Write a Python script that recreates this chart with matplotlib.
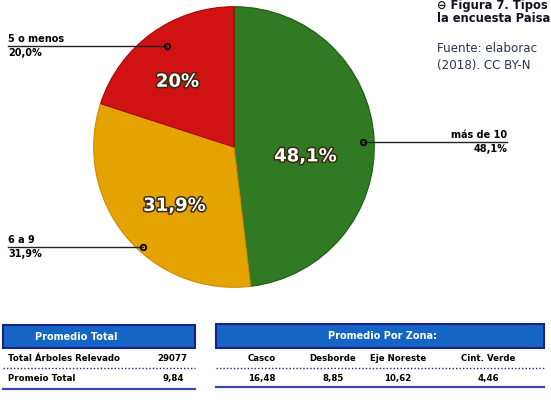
import matplotlib.pyplot as plt
import matplotlib.patheffects as pe
from matplotlib.patches import Rectangle

# datos del grafico
categorias = ['más de 10', '6 a 9', '5 o menos']
valores = [48.1, 31.9, 20.0]
etiquetas_pct = ['48,1%', '31,9%', '20%']
etiquetas_ext = ['48,1%', '31,9%', '20,0%']
colores = ['#2f7a22', '#e4a300', '#d01212']

# tabla promedio total
filas_total = ['Total Árboles Relevado', 'Promeio Total']
valores_total = ['29077', '9,84']

# tabla promedio por zona
zonas = ['Casco', 'Desborde', 'Eje Noreste', 'Cint. Verde']
promedios_zona = ['16,48', '8,85', '10,62', '4,46']

W, H = 551, 415
fig = plt.figure(figsize=(W / 100, H / 100), dpi=100)

# torta
cx, cy, r = 234, 147, 141
axp = fig.add_axes([(cx - r) / W, (H - cy - r) / H, 2 * r / W, 2 * r / H])
it = iter(etiquetas_pct)
wedges, _, autotexts = axp.pie(valores, colors=colores, startangle=90, counterclock=False,
                               autopct=lambda p: next(it), pctdistance=0.55,
                               wedgeprops=dict(edgecolor='#1b5a14', linewidth=0.8))
wedges[1].set_edgecolor('#d08a00')
wedges[2].set_edgecolor('#b00000')
# pequeños ajustes de posicion de los porcentajes
ajustes = [(-0.04, -0.1), (0.0, -0.07), (-0.08, 0.02)]
for t, (dx, dy) in zip(autotexts, ajustes):
    x, y = t.get_position()
    t.set_position((x + dx, y + dy))
    t.set_color('white')
    t.set_fontsize(13)
    t.set_fontweight('bold')
    t.set_path_effects([pe.withStroke(linewidth=2.2, foreground='#3a2a10')])
axp.set_xlim(-1.005, 1.005)
axp.set_ylim(-1.005, 1.005)

# capa en pixeles para textos y tablas
ax = fig.add_axes([0, 0, 1, 1], facecolor='none')
ax.set_xlim(0, W)
ax.set_ylim(H, 0)
ax.axis('off')

# etiquetas con lineas
lbl = dict(fontsize=7, fontweight='bold', color='black')
# (indice, x texto, y linea, x punto, alineacion)
guias = [(0, 507, 142, 363, 'right'), (1, 8, 247, 143, 'left'), (2, 8, 46, 167, 'left')]
for i, xt, yl, xp, ha in guias:
    ax.plot([xt, xp], [yl, yl], color='#222222', lw=1)
    ax.plot(xp, yl, 'o', ms=4, mfc='none', mec='black', mew=1.2)
    ax.text(xt, yl - 2, categorias[i], ha=ha, va='bottom', **lbl)
    ax.text(xt, yl + 2, etiquetas_ext[i], ha=ha, va='top', **lbl)

# texto de la figura, tal como aparece recortado en el original
ax.text(437, 6, '⊖ Figura 7. Tipos', fontsize=8.3, fontweight='bold',
        color='#111122', va='center')
ax.text(437, 18, 'la encuesta Paisa', fontsize=8.3, fontweight='bold', color='#111122',
        va='center')
ax.text(437, 49, 'Fuente: elaborac', fontsize=8.6, color='#27334f', va='center')
ax.text(437, 66, '(2018). CC BY-N', fontsize=8.6, color='#27334f', va='center')

azul = '#1565c4'
borde = '#18208a'
celda = dict(fontsize=6.2, fontweight='bold', color='black', va='center')

# tabla izquierda
ax.add_patch(Rectangle((3, 325), 192, 23, facecolor=azul, edgecolor=borde, lw=1.5))
ax.text(76, 336.5, 'Promedio Total', ha='center', va='center', fontsize=7,
        fontweight='bold', color='white')
ax.text(8, 358, filas_total[0], ha='left', **celda)
ax.text(188, 358, valores_total[0], ha='right', **celda)
ax.plot([3, 195], [368, 368], color=borde, lw=1, ls=(0, (1, 1.5)))
ax.text(8, 378, filas_total[1], ha='left', **celda)
ax.text(184, 378, valores_total[1], ha='right', **celda)
ax.plot([3, 195], [389, 389], color='#3848b0', lw=1.6)

# tabla derecha
ax.add_patch(Rectangle((216, 324), 328, 24, facecolor=azul, edgecolor=borde, lw=1.5))
ax.text(383, 336, 'Promedio Por Zona:', ha='center', va='center', fontsize=7,
        fontweight='bold', color='white')
xs_col = [262, 333, 398, 488]
for x, z, v in zip(xs_col, zonas, promedios_zona):
    ax.text(x, 358, z, ha='center', **celda)
    ax.text(x, 378, v, ha='center', **celda)
ax.plot([216, 544], [368, 368], color=borde, lw=1, ls=(0, (1, 1.5)))
ax.plot([216, 544], [387, 387], color='#3848b0', lw=1.6)

fig.savefig('out.png', dpi=100)
